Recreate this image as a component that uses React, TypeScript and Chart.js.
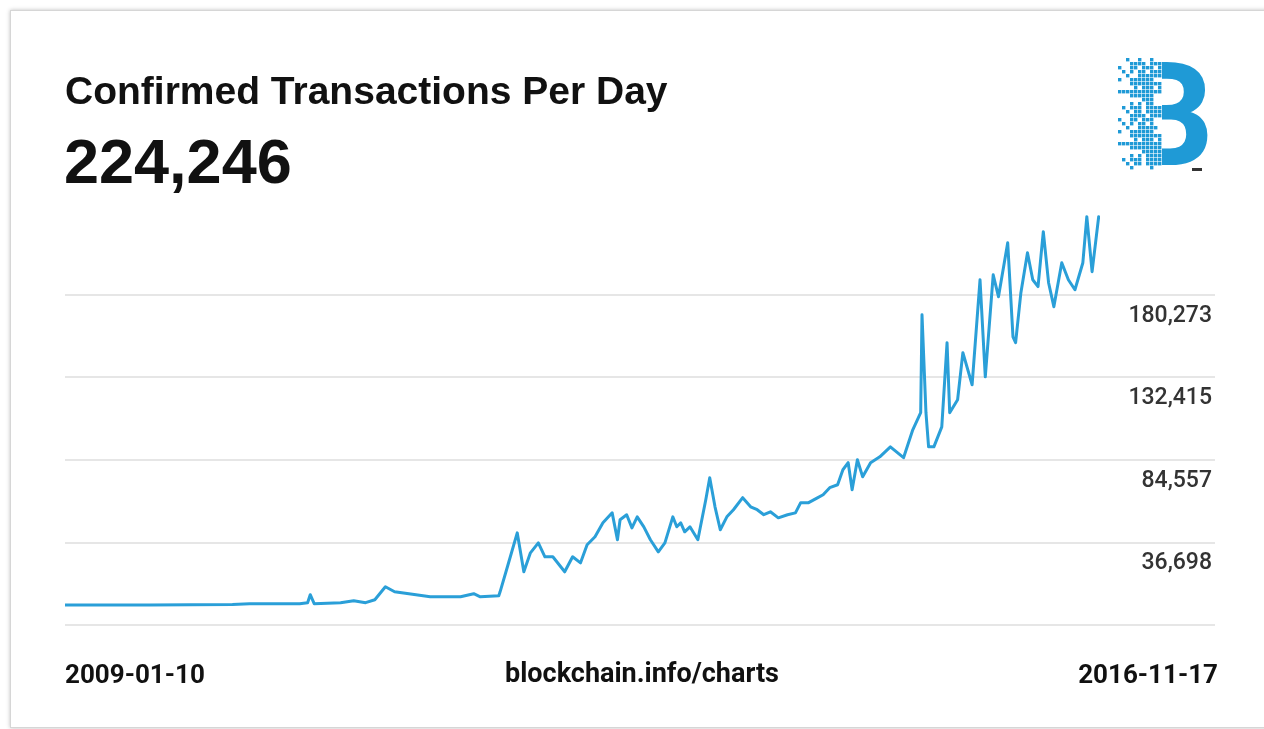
import React, { useEffect, useRef } from "react";
import { Chart, registerables } from "chart.js";

Chart.register(...registerables);

// ---- Data (decimal year, confirmed transactions per day) ----
const DATES = [
  2009.03, 2009.67, 2010.3, 2010.43, 2010.81, 2010.87, 2010.89, 2010.92, 2011.12, 2011.22,
  2011.31, 2011.38, 2011.46, 2011.53, 2011.8, 2012.03, 2012.13, 2012.18, 2012.32, 2012.33,
  2012.39, 2012.46, 2012.51, 2012.56, 2012.62, 2012.67, 2012.73, 2012.82, 2012.88, 2012.94,
  2012.99, 2013.05, 2013.11, 2013.18, 2013.22, 2013.24, 2013.29, 2013.33, 2013.37, 2013.42,
  2013.47, 2013.53, 2013.58, 2013.64, 2013.67, 2013.7, 2013.73, 2013.77, 2013.83, 2013.89,
  2013.92, 2013.96, 2014.0, 2014.05, 2014.1, 2014.17, 2014.23, 2014.28, 2014.33, 2014.38,
  2014.44, 2014.51, 2014.57, 2014.61, 2014.67, 2014.74, 2014.78, 2014.83, 2014.89, 2014.93,
  2014.97, 2015.0, 2015.04, 2015.08, 2015.14, 2015.21, 2015.29, 2015.39, 2015.46, 2015.52,
  2015.53, 2015.56, 2015.58, 2015.62, 2015.68, 2015.72, 2015.74, 2015.8, 2015.84, 2015.91,
  2015.97, 2016.01, 2016.07, 2016.11, 2016.18, 2016.22, 2016.24, 2016.28, 2016.33, 2016.37,
  2016.41, 2016.45, 2016.49, 2016.53, 2016.59, 2016.64, 2016.69, 2016.75, 2016.78, 2016.82,
  2016.87, 2016.88,
];

const TX_PER_DAY = [
  500, 500, 800, 1200, 1200, 1800, 6400, 1200, 1800, 2900,
  1800, 3500, 11000, 8100, 5200, 5200, 7000, 5200, 5800, 8100,
  23800, 42300, 19700, 30700, 36500, 28400, 28400, 19700, 28400, 24900,
  35400, 40000, 48100, 53900, 38300, 49900, 52800, 45200, 51600, 45800,
  38300, 31300, 36500, 51600, 45800, 48100, 42900, 45800, 38300, 61500,
  74300, 57400, 44100, 51600, 55700, 62700, 57400, 55700, 52800, 54500,
  51000, 52800, 53900, 59800, 59800, 62700, 64400, 68500, 70200, 78900,
  83000, 67300, 84700, 74800, 83000, 86400, 92200, 85900, 102100, 112000,
  168800, 112000, 92200, 92200, 103800, 152600, 112000, 119500, 146800, 128200,
  189100, 132800, 192000, 179300, 210600, 156000, 152600, 181600, 204800, 189100,
  185100, 217000, 187400, 173500, 199000, 189100, 183300, 199000, 225700, 193800,
  225700, 224246,
];

const Y_TICKS = [-11160, 36698, 84557, 132415, 180273, 228131];
const Y_LABELED = [36698, 84557, 132415, 180273];
const X_MIN = 2009.03;
const X_MAX = 2016.88;

const TITLE = "Confirmed Transactions Per Day";
const LATEST = "224,246";
const START_LABEL = "2009-01-10";
const END_LABEL = "2016-11-17";
const SOURCE = "blockchain.info/charts";

const LINE_COLOR = "#2a9fd8";
const LOGO_COLOR = "#1f9ad6";

function drawLogo(cv: HTMLCanvasElement) {
  const g = cv.getContext("2d");
  if (!g) return;
  g.clearRect(0, 0, cv.width, cv.height);
  g.fillStyle = LOGO_COLOR;
  g.font = "bold 145px Roboto";
  g.textAlign = "right";
  g.textBaseline = "alphabetic";
  g.fillText("B", 104, 115);
  // pixel-dissolve the left part of the letter
  const cell = 4;
  const splitX = 52;
  const img = g.getImageData(0, 0, splitX, cv.height);
  g.clearRect(0, 0, splitX, cv.height);
  for (let cx = 0; cx < splitX; cx += cell) {
    for (let cy = 8; cy < 120; cy += cell) {
      const px = Math.min(splitX - 1, cx + 2);
      const py = cy + 2;
      const a = img.data[(py * splitX + px) * 4 + 3];
      const i = cx / cell;
      const j = cy / cell;
      const h = (i * 73 + j * 151 + i * j * 7) % 13;
      const covered = a > 100;
      const depth = cx / splitX;
      const keep = covered ? h < 6 + depth * 6 : h < 3 && cx > 4;
      if (keep) g.fillRect(cx, cy, cell - 0.6, cell - 0.6);
    }
  }
  g.fillStyle = "#333";
  g.fillRect(82, 118, 10, 3);
}

export default function App() {
  const canvasRef = useRef<HTMLCanvasElement>(null);
  const logoRef = useRef<HTMLCanvasElement>(null);

  useEffect(() => {
    const chart = new Chart(canvasRef.current as HTMLCanvasElement, {
      type: "line",
      data: {
        datasets: [
          {
            data: DATES.map((d, i) => ({ x: d, y: TX_PER_DAY[i] })),
            borderColor: LINE_COLOR,
            borderWidth: 3,
            pointRadius: 0,
            tension: 0,
            fill: false,
            borderJoinStyle: "round",
          },
        ],
      },
      options: {
        animation: false,
        responsive: false,
        devicePixelRatio: 1,
        layout: { padding: { left: 65, top: 212.5, bottom: 104, right: 52 } },
        plugins: { legend: { display: false }, tooltip: { enabled: false } },
        scales: {
          x: { type: "linear", min: X_MIN, max: X_MAX, display: false },
          y: {
            position: "right",
            min: Y_TICKS[0],
            max: Y_TICKS[Y_TICKS.length - 1],
            afterBuildTicks: (s: any) => {
              s.ticks = Y_TICKS.map((v) => ({ value: v }));
            },
            afterFit: (s: any) => {
              s.width = 112;
            },
            border: { display: false },
            grid: {
              color: (c: any) =>
                c.tick && c.tick.value > 200000 ? "rgba(0,0,0,0)" : "#e6e6e6",
              lineWidth: 2,
              drawTicks: true,
              tickLength: 115,
            },
            ticks: {
              autoSkip: false,
              maxRotation: 0,
              callback: (v: any) =>
                Y_LABELED.includes(Number(v)) ? Number(v).toLocaleString("en-US") : "",
              labelOffset: 21,
              crossAlign: "far",
              padding: 0,
              color: "#333",
              font: { family: "Roboto", size: 23, weight: "500" },
            },
          },
        },
      },
    } as any);
    if (logoRef.current) drawLogo(logoRef.current);
    return () => chart.destroy();
  }, []);

  const txt = (extra: React.CSSProperties): React.CSSProperties => ({
    position: "absolute",
    fontFamily: "Roboto, 'Liberation Sans', sans-serif",
    fontWeight: 700,
    color: "#111",
    whiteSpace: "nowrap",
    zIndex: 2,
    ...extra,
  });

  const heading = "'Liberation Sans', Arial, sans-serif";

  return (
    <div
      style={{
        position: "fixed",
        left: 0,
        top: 0,
        width: 1264,
        height: 729,
        background: "#fff",
        overflow: "hidden",
      }}
    >
      <div
        style={{
          position: "absolute",
          left: 10,
          top: 10,
          width: 1262,
          height: 716,
          border: "1px solid #d6d6d6",
          boxShadow: "0 0 4px rgba(0,0,0,0.25)",
          background: "#fff",
        }}
      />
      <canvas
        ref={canvasRef}
        width={1264}
        height={729}
        style={{ position: "absolute", left: 0, top: 0, width: 1264, height: 729, zIndex: 1 }}
      />
      <canvas
        ref={logoRef}
        width={115}
        height={135}
        style={{ position: "absolute", left: 1110, top: 50, width: 115, height: 135, zIndex: 1 }}
      />
      <div style={txt({ left: 65, top: 71, fontSize: 39, lineHeight: "39px", fontFamily: heading })}>
        {TITLE}
      </div>
      <div style={txt({ left: 64, top: 130, fontSize: 63, lineHeight: "63px", fontFamily: heading })}>
        {LATEST}
      </div>
      <div style={txt({ left: 65, top: 661, fontSize: 26, lineHeight: "26px" })}>{START_LABEL}</div>
      <div
        style={txt({
          left: 642,
          top: 660,
          fontSize: 27,
          lineHeight: "27px",
          transform: "translateX(-50%)",
        })}
      >
        {SOURCE}
      </div>
      <div style={txt({ right: 46, top: 661, fontSize: 26, lineHeight: "26px" })}>{END_LABEL}</div>
    </div>
  );
}
